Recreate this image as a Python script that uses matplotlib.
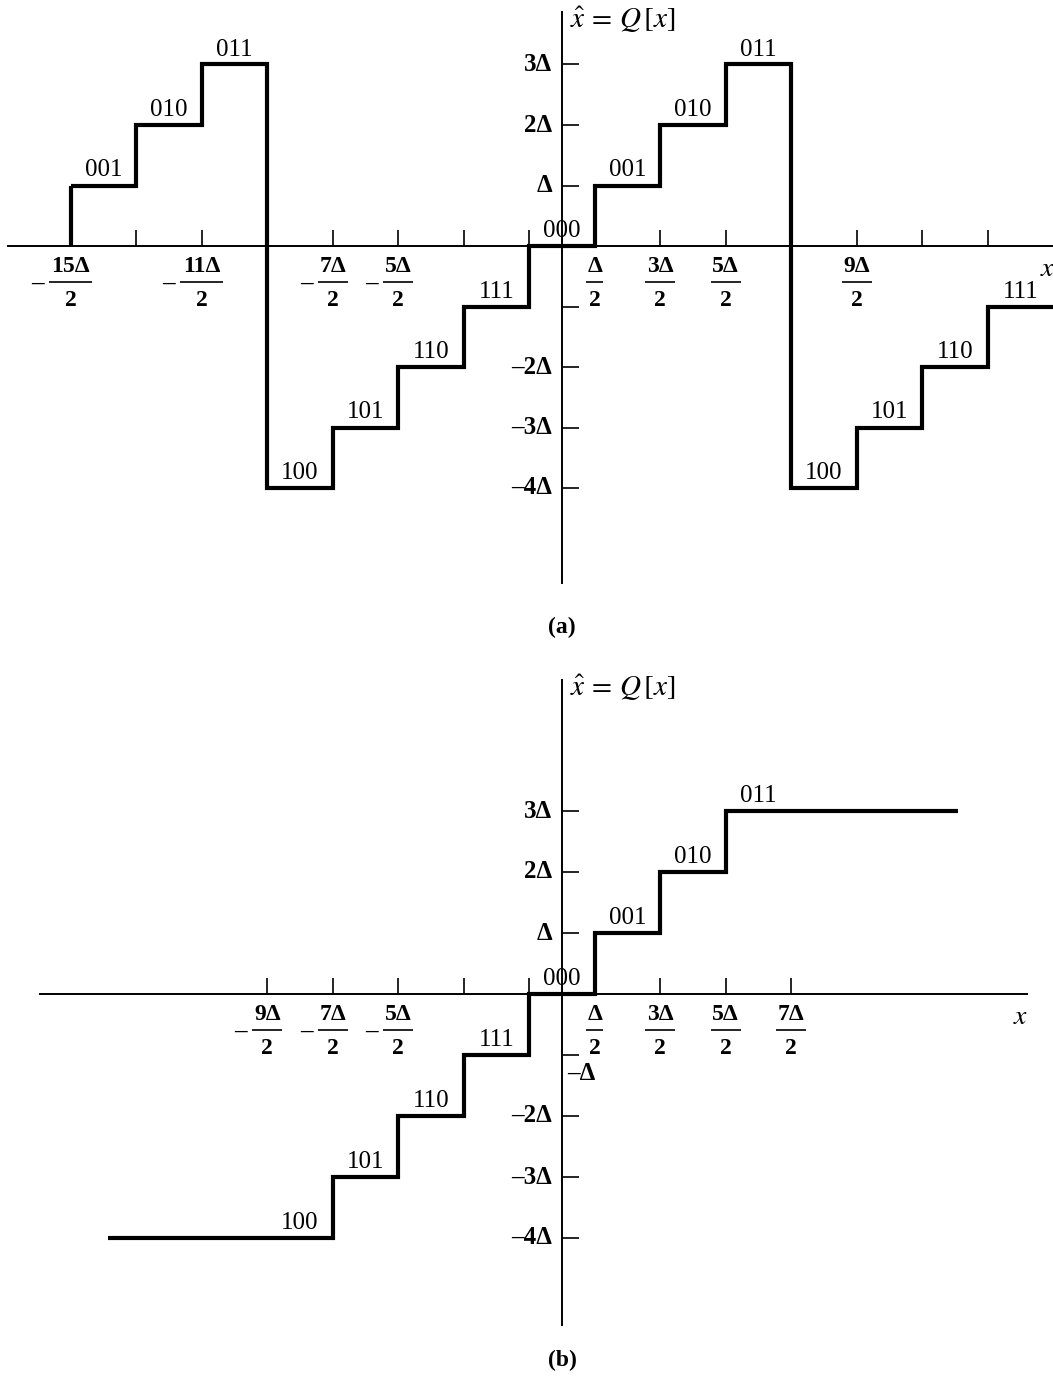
import numpy as np
import matplotlib.pyplot as plt

plt.rcParams['font.family'] = ['Liberation Serif', 'DejaVu Serif']
plt.rcParams['mathtext.fontset'] = 'stix'

# ---- (a) wrap-around (two's complement overflow) quantizer, in units of delta
edges_a = [-7.5, -6.5, -5.5, -4.5, -3.5, -2.5, -1.5, -0.5, 0.5, 1.5, 2.5, 3.5, 4.5, 5.5, 6.5, 7.5]
levels_a = [1, 2, 3, -4, -3, -2, -1, 0, 1, 2, 3, -4, -3, -2, -1]
codes_a = ['001', '010', '011', '100', '101', '110', '111', '000',
           '001', '010', '011', '100', '101', '110', '111']
xticks_a = [-7.5, -6.5, -5.5, -4.5, -3.5, -2.5, -1.5, -0.5, 0.5, 1.5, 2.5, 3.5, 4.5, 5.5, 6.5]
xlab_a = [-7.5, -5.5, -3.5, -2.5, 0.5, 1.5, 2.5, 4.5]

# ---- (b) saturating quantizer
edges_b = [-6.93, -3.5, -2.5, -1.5, -0.5, 0.5, 1.5, 2.5, 6.05]
levels_b = [-4, -3, -2, -1, 0, 1, 2, 3]
codes_b = ['100', '101', '110', '111', '000', '001', '010', '011']
code_x_b = [-4, -3, -2, -1, 0, 1, 2, 3]
xticks_b = [-4.5, -3.5, -2.5, -1.5, -0.5, 0.5, 1.5, 2.5, 3.5]
xlab_b = [-4.5, -3.5, -2.5, 0.5, 1.5, 2.5, 3.5]

yticks = [-4, -3, -2, -1, 1, 2, 3]
ylab = {3: '3Δ', 2: '2Δ', 1: 'Δ', -1: '–Δ', -2: '–2Δ', -3: '–3Δ', -4: '–4Δ'}

UX = 65.5          # pixels per delta, horizontal
W, H = 1053, 1380
X0 = 562           # pixel column of the vertical axis


def frac_label(ax, x, uy):
    # stacked fraction like  - 15Δ/2  below the x axis
    n = int(round(abs(x) * 2))
    num = 'Δ' if n == 1 else f'{n}Δ'
    px, py = 1 / UX, 1 / uy
    ax.text(x, -20 * py, num, ha='center', va='center', fontsize=17, fontweight='bold')
    ax.text(x, -54 * py, '2', ha='center', va='center', fontsize=17, fontweight='bold')
    half = (4 + 13 * len(num)) / 2 * px
    ax.plot([x - half, x + half], [-36 * py] * 2, color='black', lw=1.2, solid_capstyle='butt')
    if x < 0:
        ax.text(x - half - 5 * px, -37 * py, '–', ha='right', va='center',
                fontsize=18, fontweight='bold')


def panel(ax, y0_px, top_px, bot_px, uy, xaxis, yaxis, edges, levels, codes, code_x,
          xticks, xlabs, ylabels, tag, tag_y, start_from_axis):
    ax.set_xlim(-X0 / UX, (W - X0) / UX)
    ax.set_ylim(-(bot_px - y0_px) / uy, (y0_px - top_px) / uy)
    ax.axis('off')
    px, py = 1 / UX, 1 / uy

    # axes lines
    ax.plot(xaxis, [0, 0], color='black', lw=1.4, clip_on=False)
    ax.plot([0, 0], yaxis, color='black', lw=1.4, clip_on=False)
    ax.vlines(xticks, 0, 16 * py, color='black', lw=1.2)
    ax.hlines(yticks, 0, 17 * px, color='black', lw=1.2)

    # staircase
    ax.stairs(levels, edges, baseline=None, color='black', lw=3.0, zorder=3,
              joinstyle='miter', clip_on=False)
    if start_from_axis:
        ax.plot([edges[0]] * 2, [0, levels[0]], color='black', lw=3.0,
                solid_capstyle='butt', zorder=3)

    for c, cx, lv in zip(codes, code_x, levels):
        ax.text(cx, lv + 9 * py, c, ha='center', va='baseline', fontsize=18)

    for x in xlabs:
        frac_label(ax, x, uy)

    for y, s in ylabels.items():
        if y == -1 and tag == '(b)':
            ax.text(5 * px, -1.30, s, ha='left', va='center', fontsize=18, fontweight='bold')
        elif y != -1:
            ax.text(-10 * px, y, s, ha='right', va='center', fontsize=18, fontweight='bold')

    ax.text(8 * px, yaxis[1] - 8 * py, r'$\hat{x}\,=\,Q\,[x]$', ha='left', va='center', fontsize=21)
    ax.text(xaxis[1] - 6 * px, -24 * py, r'$x$', ha='center', va='center', fontsize=20)
    ax.text(0, tag_y, tag, ha='center', va='center', fontsize=17, fontweight='bold')


fig = plt.figure(figsize=(W / 100, H / 100), dpi=100)
ax_a = fig.add_axes([0, 1 - 650 / H, 1, 650 / H])
ax_b = fig.add_axes([0, 0, 1, 730 / H])

centers_a = [(edges_a[i] + edges_a[i + 1]) / 2 for i in range(len(levels_a))]

panel(ax_a, 246, 0, 650, 60.5, [(8 - X0) / UX, 7.5], [-5.57, 3.87],
      edges_a, levels_a, codes_a, centers_a, xticks_a, xlab_a, ylab, '(a)', -6.30, True)
panel(ax_b, 994, 650, H, 61.0, [(40 - X0) / UX, (1027 - X0) / UX], [-5.43, 5.15],
      edges_b, levels_b, codes_b, code_x_b, xticks_b, xlab_b, ylab, '(b)', -6.0, False)

fig.savefig('out.png', dpi=100)
